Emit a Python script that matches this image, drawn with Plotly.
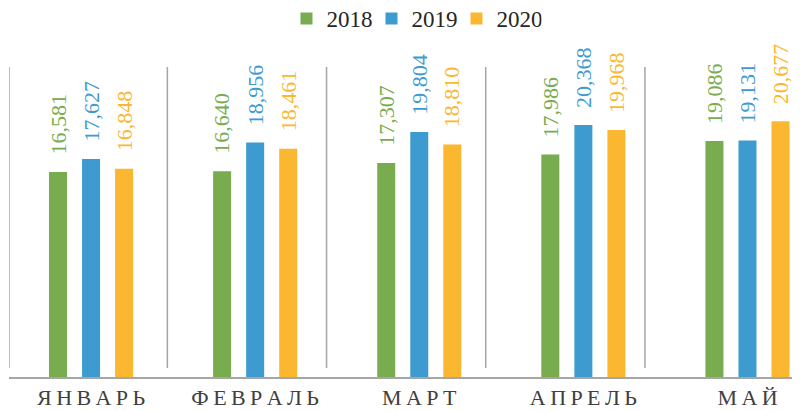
import plotly.graph_objects as go

# data
months = ["ЯНВАРЬ", "ФЕВРАЛЬ", "МАРТ", "АПРЕЛЬ", "МАЙ"]
years = ["2018", "2019", "2020"]
values_2018 = [16581, 16640, 17307, 17986, 19086]
values_2019 = [17627, 18956, 19804, 20368, 19131]
values_2020 = [16848, 18461, 18810, 19968, 20677]

COLORS = ["#78AC4F", "#3E9BD0", "#FBB72F"]
FONT = "Liberation Serif"

series = [values_2018, values_2019, values_2020]

# spread the month names a little, like the original
spaced = ["\u2009".join(m) for m in months]
xs = list(range(len(months)))

fig = go.Figure()
for name, vals, col in zip(years, series, COLORS):
    fig.add_trace(go.Bar(
        x=xs, y=vals, name=name,
        marker=dict(color=col, line=dict(width=0)),
    ))

# rotated value labels above the bars
slot = 0.2012
annotations = []
for k, (vals, col) in enumerate(zip(series, COLORS)):
    for i, v in enumerate(vals):
        annotations.append(dict(
            x=i + (k - 1) * slot, y=v, xref="x", yref="y",
            text=f"{v:,}", textangle=-90, showarrow=False,
            yanchor="bottom", xanchor="center", yshift=15,
            font=dict(family=FONT, size=22, color=col),
        ))

# grey divider lines between the month groups
dividers = [-0.5, 0.465, 1.435, 2.405, 3.375]
shapes = []
for d in dividers:
    shapes.append(dict(
        type="line", xref="x", yref="paper",
        x0=d, x1=d, y0=0.027, y1=0.92,
        line=dict(color="#A6A6A6", width=1.5),
    ))

fig.update_layout(
    width=800, height=411,
    barmode="group", bargap=0.396, bargroupgap=0.455,
    plot_bgcolor="white", paper_bgcolor="white",
    margin=dict(l=1, r=8, t=32, b=42, autoexpand=False),
    font=dict(family=FONT, color="#404040"),
    showlegend=True,
    legend=dict(
        orientation="h", x=0.512, xanchor="center", y=1.0, yanchor="bottom",
        font=dict(family=FONT, size=23, color="#262626"),
        itemwidth=30, traceorder="normal",
        entrywidth=40, entrywidthmode="pixels",
    ),
    xaxis=dict(
        tickmode="array", tickvals=xs, ticktext=spaced,
        range=[-0.5, 4.32], showgrid=False, zeroline=False,
        showline=True, linecolor="#A6A6A6", linewidth=1.5,
        ticks="", tickfont=dict(family=FONT, size=22, color="#404040"),
        automargin=False,
    ),
    yaxis=dict(
        range=[0, 27250], visible=False, showgrid=False, zeroline=False,
    ),
    annotations=annotations,
    shapes=shapes,
)

fig.write_html("out.html")
